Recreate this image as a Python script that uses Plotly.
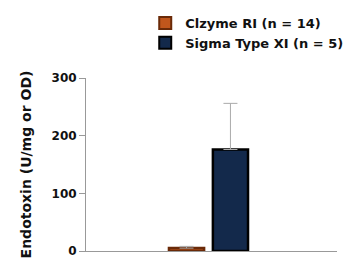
import plotly.graph_objects as go

categories = [""]
series_names = ["Clzyme RI (n = 14)", "Sigma Type XI (n = 5)"]
values = [[5], [176]]
errors = [[3], [80]]
fills = ["#c0561c", "#13294b"]
borders = ["#6a2a08", "#000000"]

fig = go.Figure()
for name, v, e, f, b in zip(series_names, values, errors, fills, borders):
    fig.add_trace(go.Bar(
        x=categories, y=v, name=name,
        marker=dict(color=f, line=dict(color=b, width=2.5)),
        error_y=dict(type="data", array=e, symmetric=False, arrayminus=[0],
                     color="#aaaaaa", thickness=1, width=7),
    ))

fig.update_layout(
    width=353, height=265,
    margin=dict(l=86, r=16, t=78, b=14, autoexpand=False),
    paper_bgcolor="white", plot_bgcolor="white",
    barmode="group", bargap=0.65, bargroupgap=0.2,
    font=dict(family="DejaVu Sans", size=13, color="#111111", weight="bold"),
    showlegend=True,
    legend=dict(x=0.236, y=0.97, xanchor="left", yanchor="top", yref="container",
                bgcolor="rgba(0,0,0,0)", font=dict(size=13, weight="bold"),
                itemsizing="constant", tracegroupgap=0),
    xaxis=dict(showline=True, linecolor="#999999", linewidth=1,
               showticklabels=False, ticks="", showgrid=False,
               range=[-0.488, 0.512], automargin=False),
    yaxis=dict(range=[0, 300], tickvals=[0, 100, 200, 300],
               showline=True, linecolor="#999999", linewidth=1,
               ticks="outside", ticklen=6, tickcolor="#999999",
               showgrid=False, zeroline=False, automargin=False,
               tickfont=dict(size=12, color="#111111", weight="bold"),
               title=dict(text="Endotoxin (U/mg or OD)", standoff=16,
                          font=dict(size=14, weight="bold"))),
)

fig.write_html("out.html", config={"displayModeBar": False},
               post_script="document.body.style.margin='0';document.body.style.overflow='hidden';")
